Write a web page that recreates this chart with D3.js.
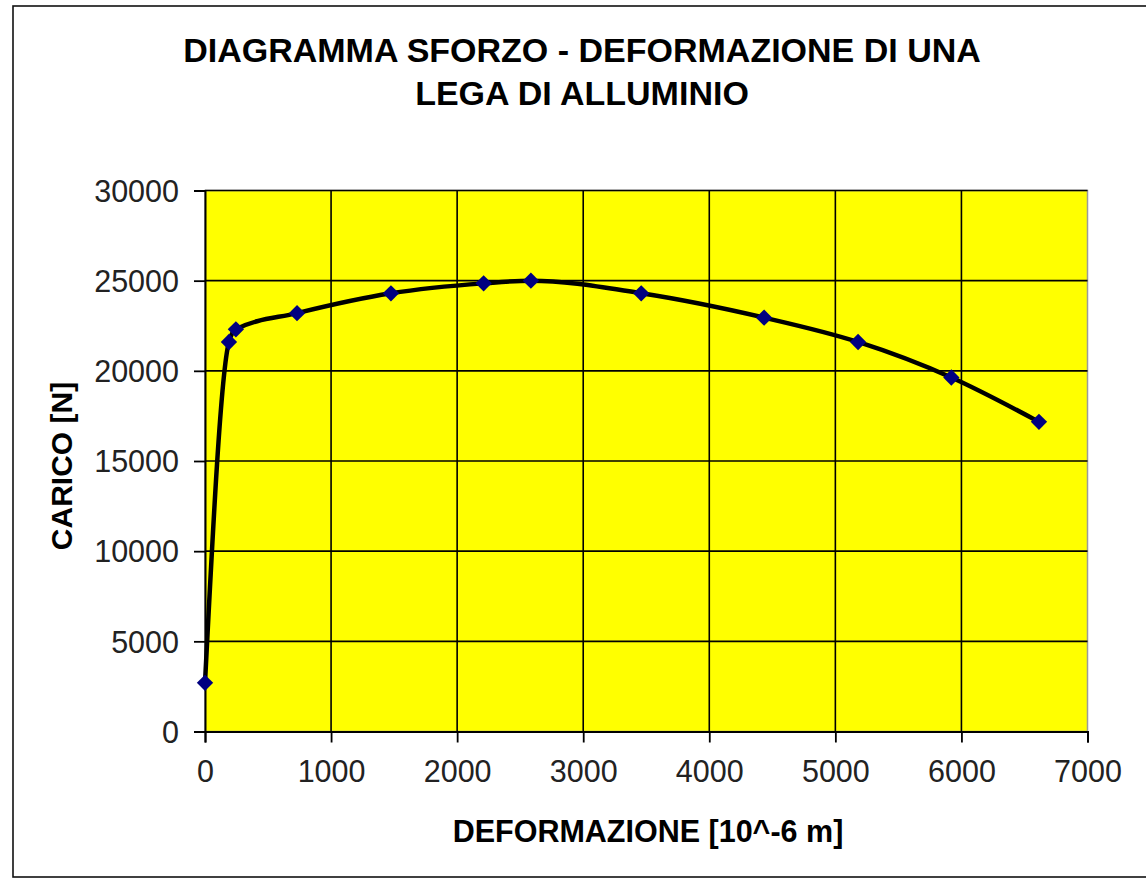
<!DOCTYPE html>
<html>
<head>
<meta charset="utf-8">
<script src="https://cdn.jsdelivr.net/npm/d3@7"></script>
<style>
  body { margin: 0; background: #fff; }
  svg { display: block; font-family: "Liberation Sans", Arial, sans-serif; }
</style>
</head>
<body>
<svg width="1146" height="878"></svg>
<script>
// data
var deformazione = [0, 190, 245, 730, 1475, 2210, 2585, 3460, 4435, 5180, 5920, 6615];
var carico = [2700, 21600, 22300, 23200, 24300, 24850, 25000, 24300, 22950, 21600, 19630, 17170];
var xTicks = [0, 1000, 2000, 3000, 4000, 5000, 6000, 7000];
var yTicks = [0, 5000, 10000, 15000, 20000, 25000, 30000];
var titleLines = ["DIAGRAMMA SFORZO - DEFORMAZIONE DI UNA", "LEGA DI ALLUMINIO"];

var svg = d3.select('svg');

// plot area edges (px)
var plotLeft = 205, plotRight = 1087.5, plotTop = 190.5, plotBottom = 731.5;

var xScale = d3.scaleLinear().domain([0, 7000]).range([plotLeft, plotRight]);
var yScale = d3.scaleLinear().domain([0, 30000]).range([plotBottom, plotTop]);

// outer frame
svg.append("rect")
    .attr("x", 13).attr("y", 6)
    .attr("width", 1140).attr("height", 871)
    .attr("fill", "white")
    .attr("stroke", "#111")
    .attr("stroke-width", 1.6);

// title
svg.append("text")
    .attr("x", 582)
    .attr("y", 62)
    .attr("text-anchor", "middle")
    .style("font-weight", "bold")
    .style("font-size", "34px")
    .selectAll("tspan")
    .data(titleLines)
    .enter().append("tspan")
    .attr("x", 582)
    .attr("dy", (d, i) => i === 0 ? 0 : 43)
    .text(d => d);

// plot area
svg.append("rect")
    .attr("x", plotLeft).attr("y", plotTop)
    .attr("width", plotRight - plotLeft).attr("height", plotBottom - plotTop)
    .attr("fill", "#ffff00")
    .attr("stroke", "#9a9a9a")
    .attr("stroke-width", 1.5);

// gridlines
svg.append("g").selectAll("line")
    .data(yTicks.slice(1))
    .enter().append("line")
    .attr("x1", plotLeft).attr("x2", plotRight)
    .attr("y1", d => yScale(d)).attr("y2", d => yScale(d))
    .attr("stroke", "#000").attr("stroke-width", 1.6);

svg.append("g").selectAll("line")
    .data(xTicks.slice(1, -1))
    .enter().append("line")
    .attr("x1", d => xScale(d)).attr("x2", d => xScale(d))
    .attr("y1", plotTop).attr("y2", plotBottom)
    .attr("stroke", "#000").attr("stroke-width", 1.6);

// axes
var xAxis = d3.axisBottom(xScale).tickValues(xTicks).tickFormat(d3.format("d")).tickSize(11).tickPadding(18);
var yAxis = d3.axisLeft(yScale).tickValues(yTicks).tickFormat(d3.format("d")).tickSize(11).tickPadding(15);

var gx = svg.append("g")
    .attr("transform", "translate(0," + plotBottom + ")")
    .call(xAxis);
var gy = svg.append("g")
    .attr("transform", "translate(" + plotLeft + ",0)")
    .call(yAxis);

[gx, gy].forEach(g => {
    g.select(".domain").attr("stroke", "#000").attr("stroke-width", 2);
    g.selectAll(".tick line").attr("stroke", "#000").attr("stroke-width", 1.8);
    g.selectAll(".tick text")
        .attr("fill", "#222")
        .style("font-family", "'Liberation Sans', Arial, sans-serif")
        .style("font-size", "30.5px");
});
gy.selectAll(".tick text").attr("dy", "0.35em");

// axis titles
svg.append("text")
    .attr("x", 648)
    .attr("y", 842)
    .attr("text-anchor", "middle")
    .style("font-weight", "bold")
    .style("font-size", "30.5px")
    .text("DEFORMAZIONE [10^-6 m]");

svg.append("text")
    .attr("transform", "translate(72,466)rotate(-90)")
    .attr("text-anchor", "middle")
    .style("font-weight", "bold")
    .style("font-size", "30px")
    .text("CARICO [N]");

// smoothed line through the measured points
var points = deformazione.map((d, i) => ({x: d, y: carico[i]}));

var line = d3.line()
    .x(d => xScale(d.x))
    .y(d => yScale(d.y))
    .curve(d3.curveMonotoneX);

svg.append("path")
    .datum(points)
    .attr("d", line)
    .attr("fill", "none")
    .attr("stroke", "#000")
    .attr("stroke-width", 4.5);

svg.append("g").selectAll("path")
    .data(points)
    .enter().append("path")
    .attr("d", d3.symbol().type(d3.symbolDiamond2).size(170))
    .attr("transform", d => "translate(" + xScale(d.x) + "," + yScale(d.y) + ")")
    .attr("fill", "#000080");
</script>
</body>
</html>
